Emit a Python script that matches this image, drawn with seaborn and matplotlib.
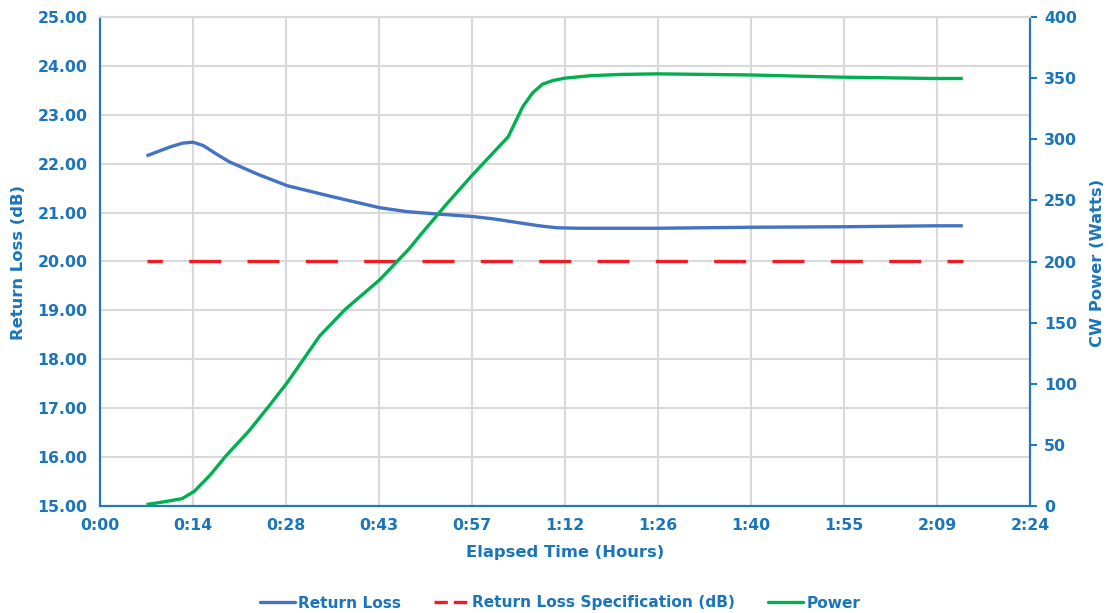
import matplotlib
matplotlib.use("Agg")
import matplotlib.pyplot as plt
import seaborn as sns
import pandas as pd
from matplotlib.lines import Line2D

# ---- data (elapsed time in minutes) ----
rl_time = [7.2, 9.0, 11.0, 12.8, 14.4, 16.0, 18.0, 20.0, 24.5, 29.0, 35.5, 43.3, 47.5, 52.3, 57.7, 61.0, 65.0, 68.0, 70.7, 74.0, 78.0, 86.3, 100.5, 114.8, 129.2, 133.6]
rl_values = [22.16, 22.25, 22.35, 22.42, 22.44, 22.37, 22.20, 22.04, 21.78, 21.55, 21.34, 21.10, 21.02, 20.97, 20.92, 20.87, 20.79, 20.73, 20.69, 20.68, 20.68, 20.68, 20.70, 20.71, 20.73, 20.73]

pw_time = [7.2, 10.0, 12.7, 14.6, 17.0, 19.5, 23.0, 26.2, 29.0, 34.0, 38.0, 43.3, 47.8, 49.5, 53.5, 57.7, 63.2, 64.3, 65.5, 67.0, 68.5, 70.1, 72.0, 76.0, 80.5, 86.3, 100.5, 114.8, 129.2, 133.6]
pw_values = [1.2, 3.5, 6.0, 12.0, 25.0, 41.0, 61.0, 82.0, 101.0, 139.0, 161.0, 185.0, 210.0, 221.0, 246.0, 271.0, 302.0, 314.0, 327.0, 338.0, 345.0, 348.0, 350.0, 352.0, 353.0, 353.5, 352.6, 350.8, 349.7, 349.7]

spec_time = [7.2, 133.6]
spec_values = [20.0, 20.0]

x_ticks_min = [0, 14.4, 28.8, 43.2, 57.6, 72.0, 86.4, 100.8, 115.2, 129.6, 144.0]
x_tick_labels = ["0:00", "0:14", "0:28", "0:43", "0:57", "1:12", "1:26", "1:40", "1:55", "2:09", "2:24"]
left_ticks = [15, 16, 17, 18, 19, 20, 21, 22, 23, 24, 25]
right_ticks = [0, 50, 100, 150, 200, 250, 300, 350, 400]

# ---- style ----
sns.set_theme(style="white")
plt.rcParams["font.family"] = ["DejaVu Sans"]
TXT = "#1B75BB"
SPINE = "#1F78C1"
GRID = "#D9D9D9"
C_RL = "#4472C4"
C_SPEC = "#EE1C25"
C_PW = "#00B050"
FS = 11.3

fig = plt.figure(figsize=(11.10, 6.13), dpi=100)
ax = fig.add_axes([100/1110, 1-506/613, 930/1110, 489/613])
ax2 = ax.twinx()

df_rl = pd.DataFrame({"t": rl_time, "v": rl_values})
df_spec = pd.DataFrame({"t": spec_time, "v": spec_values})
df_pw = pd.DataFrame({"t": pw_time, "v": pw_values})

sns.lineplot(data=df_rl, x="t", y="v", ax=ax, color=C_RL, linewidth=2.4, zorder=3)
sns.lineplot(data=df_spec, x="t", y="v", ax=ax, color=C_SPEC, linewidth=2.4, zorder=3)
spec_line = ax.lines[-1]
spec_line.set_linestyle((5.0, (9.6, 7.9)))
spec_line.set_dash_capstyle("butt")
sns.lineplot(data=df_pw, x="t", y="v", ax=ax2, color=C_PW, linewidth=2.4, zorder=3)
for ln in ax.lines + ax2.lines:
    ln.set_solid_joinstyle("round")
    ln.set_solid_capstyle("butt")

ax.set_xlim(0, 144)
ax.set_ylim(15, 25)
ax2.set_ylim(0, 400)
ax.set_xticks(x_ticks_min)
ax.set_xticklabels(x_tick_labels)
ax.set_yticks(left_ticks)
ax.set_yticklabels([f"{v:.2f}" for v in left_ticks])
ax2.set_yticks(right_ticks)
ax2.set_yticklabels([str(v) for v in right_ticks])

ax.grid(True, color=GRID, linewidth=1.5)
ax.set_axisbelow(True)
ax2.grid(False)

for a in (ax, ax2):
    a.set_xlabel("")
    a.set_ylabel("")
    for s in a.spines.values():
        s.set_color(SPINE)
        s.set_linewidth(1.5)
    a.spines["top"].set_color(GRID)

ax.tick_params(axis="y", length=0, pad=9, labelsize=FS, labelcolor=TXT)
ax.tick_params(axis="x", length=0, pad=9, labelsize=FS, labelcolor=TXT)
ax2.tick_params(axis="y", length=5, width=1.5, color=SPINE, direction="out", pad=5,
                labelsize=FS, labelcolor=TXT)
for lab in ax.get_xticklabels() + ax.get_yticklabels() + ax2.get_yticklabels():
    lab.set_fontweight("bold")

fig.text(19/1110, 1-263/613, "Return Loss (dB)", rotation=90, ha="center", va="center",
         color=TXT, fontsize=FS+0.5, fontweight="bold")
fig.text(1098/1110, 1-263/613, "CW Power (Watts)", rotation=90, ha="center", va="center",
         color=TXT, fontsize=FS+0.5, fontweight="bold")
fig.text(565/1110, 1-553/613, "Elapsed Time (Hours)", ha="center", va="center",
         color=TXT, fontsize=FS+0.5, fontweight="bold")

handles = [
    Line2D([], [], color=C_RL, linewidth=2.4),
    Line2D([], [], color=C_SPEC, linewidth=2.4, dashes=(4, 1.8)),
    Line2D([], [], color=C_PW, linewidth=2.4),
]
labels = ["Return Loss", "Return Loss Specification (dB)", "Power"]
leg = fig.legend(handles, labels, loc="center", bbox_to_anchor=(560/1110, 1-603/613),
                 ncol=3, frameon=False, handlelength=2.3, handletextpad=0.2,
                 columnspacing=2.1, fontsize=FS - 0.2)
for t in leg.get_texts():
    t.set_color(TXT)
    t.set_fontweight("bold")

fig.savefig("out.png", dpi=100)
